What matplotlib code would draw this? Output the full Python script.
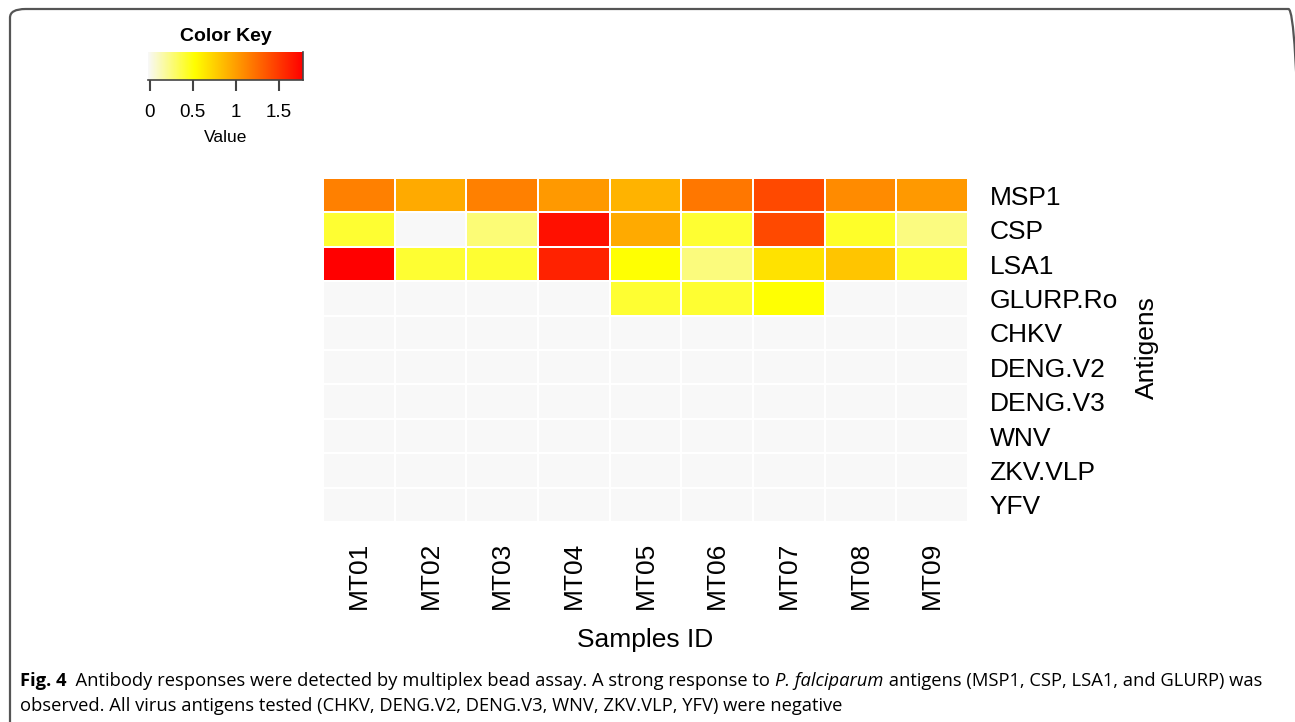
import numpy as np
import matplotlib.pyplot as plt
from matplotlib.colors import LinearSegmentedColormap
from matplotlib.patches import FancyBboxPatch

# antigens (rows, top to bottom) and samples (columns)
antigens = ["MSP1", "CSP", "LSA1", "GLURP.Ro", "CHKV", "DENG.V2",
            "DENG.V3", "WNV", "ZKV.VLP", "YFV"]
samples = ["MT01", "MT02", "MT03", "MT04", "MT05", "MT06", "MT07", "MT08", "MT09"]

msp1 = [1.16, 0.95, 1.16, 1.03, 0.91, 1.20, 1.42, 1.10, 1.03]
csp = [0.43, 0.00, 0.28, 1.70, 0.95, 0.43, 1.42, 0.45, 0.26]
lsa1 = [1.78, 0.43, 0.43, 1.61, 0.53, 0.27, 0.68, 0.82, 0.43]
glurp = [0.00, 0.00, 0.00, 0.00, 0.43, 0.43, 0.53, 0.00, 0.00]
chkv = [0.0] * 9
deng_v2 = [0.0] * 9
deng_v3 = [0.0] * 9
wnv = [0.0] * 9
zkv_vlp = [0.0] * 9
yfv = [0.0] * 9

values = np.array([msp1, csp, lsa1, glurp, chkv, deng_v2, deng_v3, wnv, zkv_vlp, yfv])
vmin, vmax = 0.0, 1.78

cmap = LinearSegmentedColormap.from_list(
    "key", [(0.0, "#f8f8f8"), (0.3, "#ffff00"), (0.65, "#ff8000"), (1.0, "#ff0000")])

W, H = 1295, 722
fig = plt.figure(figsize=(W / 100, H / 100), dpi=100)
plt.rcParams['font.family'] = ['Liberation Sans', 'DejaVu Sans']


def fx(px):
    return px / W


def fy(py):
    return 1 - py / H


# main heatmap
ax = fig.add_axes([fx(323), fy(522), fx(968) - fx(323), fy(178) - fy(522)])
ax.pcolormesh(values, cmap=cmap, vmin=vmin, vmax=vmax,
              edgecolors="#ffffff", linewidth=1.2)
ax.set_xlim(0, len(samples))
ax.set_ylim(len(antigens), 0)
for s in ax.spines.values():
    s.set_visible(False)
ax.tick_params(length=0)
ax.set_xticks(np.arange(len(samples)) + 0.5)
ax.set_xticklabels(samples, rotation=90, fontsize=19)
ax.tick_params(axis="x", pad=14)
ax.yaxis.tick_right()
ax.set_yticks(np.arange(len(antigens)) + 0.5)
ax.set_yticklabels(antigens, fontsize=19)
ax.tick_params(axis="y", pad=15.5)

fig.text(fx(645), fy(640), "Samples ID", fontsize=19, ha="center", va="center")
fig.text(fx(1147), fy(348), "Antigens", fontsize=19, ha="center", va="center",
         rotation=90)

# colour key
kax = fig.add_axes([fx(148), fy(80), fx(303) - fx(148), fy(52) - fy(80)])
grad = np.linspace(vmin, vmax, 256).reshape(1, -1)
kax.imshow(grad, aspect="auto", cmap=cmap, vmin=vmin, vmax=vmax,
           extent=[vmin - 0.02, vmax, 0, 1])
kax.set_yticks([])
kax.set_xticks([0, 0.5, 1, 1.5])
kax.set_xticklabels(["0", "0.5", "1", "1.5"], fontsize=13.5)
kax.tick_params(axis="x", length=8, width=1.5, color="#444444", pad=9)
for name, s in kax.spines.items():
    s.set_visible(name in ("bottom", "right"))
    s.set_color("#444444")
    s.set_linewidth(1.2)
kax.set_title("Color Key", fontsize=14, fontweight="bold", pad=8)
fig.text(fx(226), fy(138), "Value", fontsize=12.5, ha="center", va="center")

# rounded frame (right edge falls outside the picture, only the corner shows)
frame = FancyBboxPatch((fx(10), fy(760)), fx(1304) - fx(10), fy(9) - fy(760),
                       boxstyle="round,pad=0,rounding_size=0.012",
                       transform=fig.transFigure, fill=False,
                       edgecolor="#555555", linewidth=1.6)
fig.patches.append(frame)

# caption, built piece by piece
cap_font = ['Open Sans', 'Liberation Sans']
renderer = fig.canvas.get_renderer()


def chain(pieces, x0, y0):
    x = x0
    for txt, kw in pieces:
        t = fig.text(x, y0, txt, fontsize=13.2, family=cap_font, va="center", **kw)
        bb = t.get_window_extent(renderer=renderer)
        x += bb.width / W


line1 = [("Fig. 4", dict(fontweight="bold")),
         ("  Antibody responses were detected by multiplex bead assay. A strong response to ", {}),
         ("P. falciparum", dict(style="italic")),
         (" antigens (MSP1, CSP, LSA1, and GLURP) was", {})]
line2 = [("observed. All virus antigens tested (CHKV, DENG.V2, DENG.V3, WNV, ZKV.VLP, YFV) were negative", {})]
chain(line1, fx(20), fy(681))
chain(line2, fx(20), fy(706))

fig.savefig("out.png", dpi=100)
